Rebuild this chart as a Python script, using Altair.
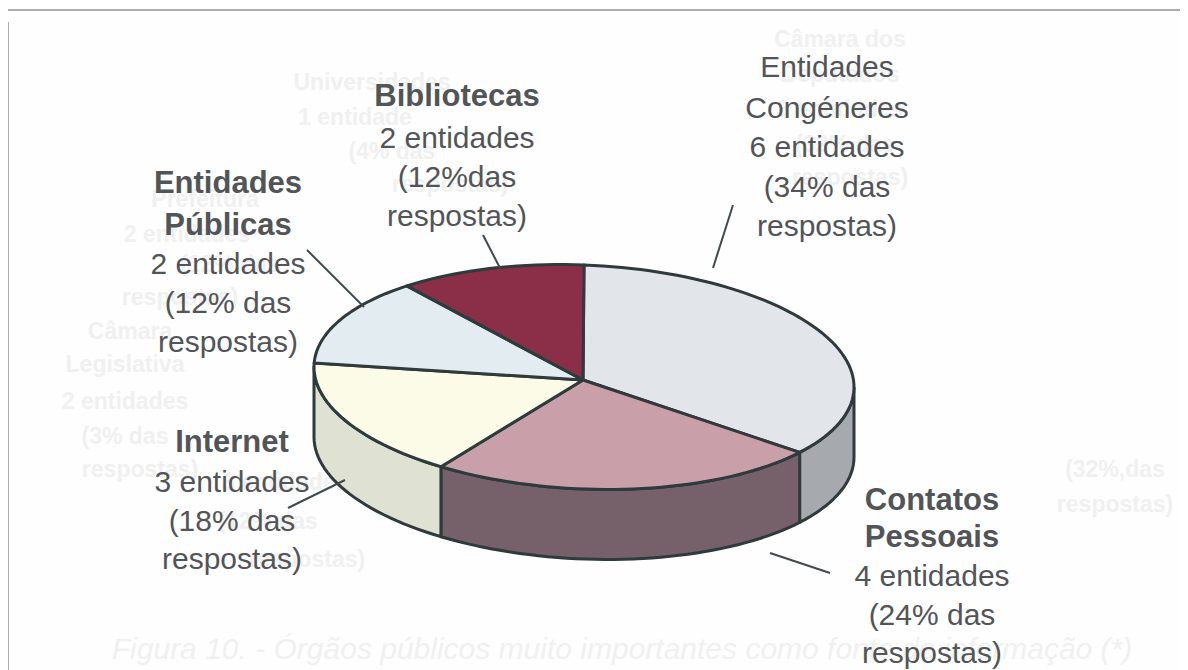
import math
import altair as alt
import pandas as pd

# ---- Pie data: shares as printed and the apparent angular span of each slice on the tilted disc
slice_names = ["Entidades Congéneres", "Contatos Pessoais", "Internet", "Entidades Públicas", "Bibliotecas"]
entities = [6, 4, 3, 2, 2]
shares = [34, 24, 18, 12, 12]
apparent_deg = [127, 85, 60, 47, 41]
top_colors = ["#e2e5e9", "#c9a0aa", "#fbfbe8", "#e3edf1", "#8a2f47"]
side_colors = ["#a6a9ad", "#76616a", "#dfe1d2", "#dfe1d2", "#dfe1d2"]

# ---- Disc geometry, in picture pixels
CX, CY, RX, RY, DEPTH, TILT = 584, 377, 270, 112, 70, 0.037
HUB = (583, 380)

# ---- Labels
label_x = [827, 932, 232, 228, 457]
label_lines = [
    ["Entidades", "Congéneres", "6 entidades", "(34% das", "respostas)"],
    ["Contatos", "Pessoais", "4 entidades", "(24% das", "respostas)"],
    ["Internet", "3 entidades", "(18% das", "respostas)"],
    ["Entidades", "Públicas", "2 entidades", "(12% das", "respostas)"],
    ["Bibliotecas", "2 entidades", "(12%das", "respostas)"],
]
label_y = [
    [68, 109, 148, 188, 227],
    [501, 538, 577, 616, 654],
    [443, 483, 522, 560],
    [184, 226, 265, 304, 343],
    [97, 139, 178, 217],
]
label_bold = [0, 2, 1, 2, 1]  # number of bold leading lines

# ---- Leader lines
lead_x = [733, 770, 288, 307, 483]
lead_y = [205, 553, 508, 250, 235]
lead_x2 = [713, 830, 345, 364, 500]
lead_y2 = [268, 573, 480, 307, 268]

# ---- Show-through from the other side of the page
ghost_text = ["Universidades", "1 entidade", "(4% das", "respostas)", "Prefeitura", "2 entidades", "(12% das", "respostas)",
              "Câmara", "Legislativa", "2 entidades", "(3% das", "respostas)", "Câmara dos", "Deputados", "3 entidades", "(32% das", "respostas)",
              "3 entidades", "(12% das", "respostas)", "(32%,das", "respostas)"]
ghost_x = [372, 355, 392, 450, 205, 187, 230, 180, 130, 125, 125, 125, 140, 840, 840, 840, 845, 850, 285, 268, 307, 1115, 1115]
ghost_y = [83, 118, 152, 185, 200, 235, 265, 298, 332, 365, 402, 437, 470, 40, 75, 110, 145, 178, 483, 522, 560, 470, 505]
caption = "Figura 10. - Órgãos públicos muito importantes como fonte de informação (*)"


def rim(deg):
    t = math.radians(deg)
    x = CX + RX * math.sin(t)
    return x, CY - RY * math.cos(t) + TILT * (x - CX)


def arc(a, b):
    n = max(2, int(abs(b - a) / 2))
    return [rim(a + (b - a) * i / n) for i in range(n + 1)]


X = alt.X("x:Q", scale=alt.Scale(domain=[8, 1180]), axis=None)
Y = alt.Y("y:Q", scale=alt.Scale(domain=[670, 8]), axis=None)


def polygon(points, fill, sw=3):
    pts = list(points) + [points[0]]
    df = pd.DataFrame({"x": [p[0] for p in pts], "y": [p[1] for p in pts], "i": list(range(len(pts)))})
    return alt.Chart(df).mark_line(fill=fill, stroke="#2f3a3c", strokeWidth=sw, clip=False, strokeJoin="round").encode(
        x=X, y=Y, order="i:Q")


layers = []

# ghost layer
gdf = pd.DataFrame({"x": ghost_x, "y": ghost_y, "t": ghost_text})
layers.append(alt.Chart(gdf).mark_text(font="Liberation Sans", fontSize=23, fontWeight="bold", color="#f0f0f0",
                                       align="center", baseline="middle").encode(x=X, y=Y, text="t:N"))
capdf = pd.DataFrame({"x": [622], "y": [650], "t": [caption]})
layers.append(alt.Chart(capdf).mark_text(font="Liberation Sans", fontSize=30, fontStyle="italic", color="#f0f0f0",
                                         align="center", baseline="middle").encode(x=X, y=Y, text="t:N"))

# frame
frame_df = pd.DataFrame({"x": [8, 8], "x2": [1180, 8], "y": [10, 22], "y2": [10, 670]})
layers.append(alt.Chart(frame_df).mark_rule(color="#8f9090", strokeWidth=1.5, clip=False).encode(
    x=X, x2="x2:Q", y=Y, y2="y2:Q"))

# sides
edges = [0]
for s in apparent_deg:
    edges.append(edges[-1] + s)
for i in range(5):
    a, b = max(edges[i], 90), min(edges[i + 1], 270)
    if a >= b:
        continue
    front = arc(a, b)
    back = [(x, y + DEPTH) for x, y in reversed(front)]
    layers.append(polygon(front + back, side_colors[i]))

# tops
for i in range(5):
    layers.append(polygon([HUB] + arc(edges[i], edges[i + 1]), top_colors[i]))

# leaders
ldf = pd.DataFrame({"x": lead_x, "y": lead_y, "x2": lead_x2, "y2": lead_y2})
layers.append(alt.Chart(ldf).mark_rule(color="#404a4c", strokeWidth=2, clip=False).encode(
    x=X, x2="x2:Q", y=Y, y2="y2:Q"))

# labels
rows = []
for i, lines in enumerate(label_lines):
    for j, line in enumerate(lines):
        rows.append({"x": label_x[i], "y": label_y[i][j], "t": line, "b": j < label_bold[i]})
tdf = pd.DataFrame(rows)
for bold, size, weight in [(False, 30, "normal"), (True, 31, "bold")]:
    layers.append(alt.Chart(tdf[tdf.b == bold]).mark_text(
        font="Liberation Sans", fontSize=size, fontWeight=weight, color="#525557",
        align="center", baseline="middle").encode(x=X, y=Y, text="t:N"))

chart = alt.layer(*layers).properties(
    width=1172, height=662, padding=0, background="#fefefe",
    autosize=alt.AutoSizeParams(type="none")
).configure_view(stroke=None)

chart.save("out.html", embed_options={"renderer": "svg", "actions": False})
